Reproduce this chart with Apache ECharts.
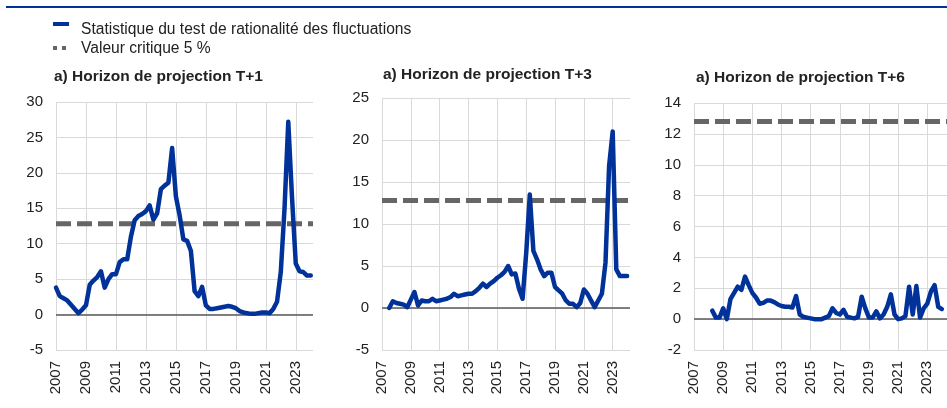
<!DOCTYPE html>
<html>
<head>
<meta charset="utf-8">
<script src="https://cdn.jsdelivr.net/npm/echarts@6/dist/echarts.min.js"></script>
<style>
  html, body { margin: 0; padding: 0; background: #fff; }
  #chart { width: 947px; height: 408px; }
</style>
</head>
<body>
<div id="chart"></div>
<script>
// ---- Data -----------------------------------------------------------------
const seriesName = 'Statistique du test de rationalité des fluctuations';
const criticalName = 'Valeur critique 5 %';
const criticalValue = 12.8;

const panelTitles = [
  'a) Horizon de projection T+1',
  'a) Horizon de projection T+3',
  'a) Horizon de projection T+6'
];

// Quarterly statistics; each series starts at the given quarter (decimal year)
const startT1 = 2007.0;
const statT1 = [
  3.8, 2.6, 2.3, 2.0, 1.4, 0.8, 0.2, 0.7, 1.3, 4.2, 4.8, 5.3,
  6.1, 3.8, 5.0, 5.7, 5.7, 7.4, 7.8, 7.8, 11.0, 13.3, 13.9, 14.2,
  14.6, 15.4, 13.4, 14.3, 17.7, 18.2, 18.6, 23.5, 16.7, 14.0, 10.6, 10.4,
  9.0, 3.3, 2.6, 3.9, 1.3, 0.8, 0.8, 0.9, 1.0, 1.1, 1.2, 1.1,
  0.9, 0.5, 0.3, 0.2, 0.1, 0.1, 0.2, 0.3, 0.3, 0.2, 0.8, 1.8,
  6.0, 15.0, 27.2, 16.5, 7.2, 6.1, 6.0, 5.5, 5.5
];

const startT3 = 2007.5;
const statT3 = [
  0.0, 0.8, 0.6, 0.5, 0.4, 0.1, 1.0, 1.9, 0.3, 0.9, 0.8, 0.8,
  1.1, 0.8, 0.9, 1.0, 1.1, 1.3, 1.7, 1.4, 1.5, 1.6, 1.7, 1.7,
  2.0, 2.4, 2.9, 2.5, 2.9, 3.2, 3.6, 3.9, 4.3, 5.0, 4.0, 4.1,
  2.3, 1.1, 6.5, 13.5, 6.8, 5.8, 4.6, 3.8, 4.2, 4.2, 2.5, 2.1,
  1.7, 0.9, 0.5, 0.5, 0.1, 0.6, 2.2, 1.7, 0.9, 0.1, 0.9, 1.7,
  5.4, 16.9, 21.0, 4.6, 3.8, 3.8, 3.8
];

const startT6 = 2008.25;
const statT6 = [
  0.55, 0.1, 0.1, 0.7, 0.0, 1.3, 1.7, 2.1, 1.9, 2.75, 2.2, 1.7,
  1.4, 1.0, 1.05, 1.2, 1.2, 1.1, 0.95, 0.85, 0.8, 0.8, 0.75, 1.5,
  0.3, 0.15, 0.1, 0.05, 0.0, 0.0, 0.0, 0.1, 0.2, 0.7, 0.4, 0.3,
  0.6, 0.15, 0.1, 0.05, 0.15, 1.45, 0.7, 0.1, 0.1, 0.5, 0.05, 0.3,
  0.8, 1.6, 0.3, 0.0, 0.05, 0.2, 2.1, 0.3, 2.15, 0.1, 0.7, 1.0,
  1.8, 2.2, 0.8, 0.65
];

// Axis scales (value ranges and tick steps)
const xStart = 2007;
const xStep = 2;
const yScales = [
  { min: -5, max: 30, interval: 5 },
  { min: -5, max: 25, interval: 5 },
  { min: -2, max: 14, interval: 2 }
];

// ---- Layout ---------------------------------------------------------------
const BLUE = '#003299';
const GREY = '#666666';
const TEXT = '#222222';
const FONT = 'Arial, "Liberation Sans", sans-serif';

const panels = [
  { start: startT1, values: statT1, grid: { left: 56, top: 102, width: 257, height: 248 }, xMax: 2024.15, titleLeft: 54, titleTop: 69 },
  { start: startT3, values: statT3, grid: { left: 382, top: 98, width: 248, height: 252 }, xMax: 2024.2, titleLeft: 383, titleTop: 67 },
  { start: startT6, values: statT6, grid: { left: 694, top: 103, width: 253, height: 247 }, xMax: 2024.35, titleLeft: 696, titleTop: 70 }
];

function quarterly(start, values) {
  return values.map((v, i) => [start + i * 0.25, v]);
}

const grids = [], xAxes = [], yAxes = [], series = [], titles = [];

panels.forEach((p, i) => {
  grids.push(Object.assign({ containLabel: false }, p.grid));

  titles.push({
    text: panelTitles[i],
    left: p.titleLeft,
    top: p.titleTop,
    padding: 0,
    textStyle: { fontFamily: FONT, fontSize: 15.5, fontWeight: 'bold', color: TEXT }
  });

  xAxes.push({
    type: 'value',
    gridIndex: i,
    min: xStart,
    max: p.xMax,
    interval: xStep,
    axisLine: { show: false },
    axisTick: { show: false },
    splitLine: { show: true, showMaxLine: false, lineStyle: { color: '#d9d9d9', width: 1 } },
    axisLabel: {
      rotate: 90,
      margin: 11,
      showMaxLabel: false,
      fontFamily: FONT,
      fontSize: 15,
      color: TEXT,
      formatter: v => (Number.isInteger(v) ? String(v) : '')
    }
  });

  yAxes.push({
    type: 'value',
    gridIndex: i,
    min: yScales[i].min,
    max: yScales[i].max,
    interval: yScales[i].interval,
    axisLine: { show: false },
    axisTick: { show: false },
    splitLine: { show: true, lineStyle: { color: '#d9d9d9', width: 1 } },
    axisLabel: { margin: 13, fontFamily: FONT, fontSize: 15, color: TEXT }
  });

  series.push({
    name: seriesName,
    type: 'line',
    xAxisIndex: i,
    yAxisIndex: i,
    data: quarterly(p.start, p.values),
    symbol: 'none',
    z: 3,
    lineStyle: { color: BLUE, width: 4.5, join: 'round', cap: 'round' },
    markLine: {
      silent: true,
      symbol: 'none',
      label: { show: false },
      lineStyle: { color: '#5a5a5a', width: 1.5, type: 'solid' },
      data: [{ yAxis: 0 }],
      z: 1
    }
  });

  series.push({
    name: criticalName,
    type: 'line',
    xAxisIndex: i,
    yAxisIndex: i,
    data: [[xStart, criticalValue], [p.xMax, criticalValue]],
    symbol: 'none',
    z: 2,
    lineStyle: { color: GREY, width: 5, type: [15, 6], cap: 'butt' }
  });
});

// Header rule and legend
const legendFont = '15.6px ' + FONT;
const graphic = [
  { type: 'rect', shape: { x: 6, y: 6, width: 941, height: 2 }, style: { fill: BLUE }, silent: true },
  { type: 'rect', shape: { x: 53, y: 22, width: 16, height: 4 }, style: { fill: BLUE }, silent: true },
  { type: 'text', x: 81, y: 30, style: { text: seriesName, font: legendFont, fill: TEXT, textVerticalAlign: 'middle' }, silent: true },
  { type: 'rect', shape: { x: 53, y: 46, width: 4, height: 4 }, style: { fill: GREY }, silent: true },
  { type: 'rect', shape: { x: 62, y: 46, width: 4, height: 4 }, style: { fill: GREY }, silent: true },
  { type: 'text', x: 81, y: 49, style: { text: criticalName, font: legendFont, fill: TEXT, textVerticalAlign: 'middle' }, silent: true }
];

const chart = echarts.init(document.getElementById('chart'), null, { renderer: 'canvas' });
chart.setOption({
  animation: false,
  backgroundColor: '#ffffff',
  title: titles,
  grid: grids,
  xAxis: xAxes,
  yAxis: yAxes,
  series: series,
  graphic: graphic
});
</script>
</body>
</html>
